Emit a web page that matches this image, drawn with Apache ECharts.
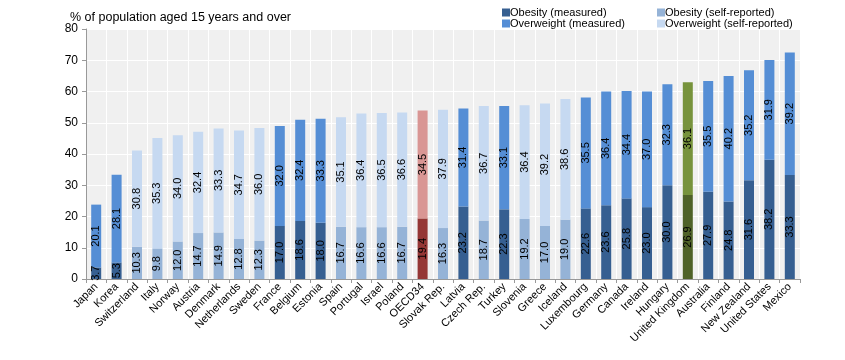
<!DOCTYPE html>
<html>
<head>
<meta charset="utf-8">
<script src="https://cdn.jsdelivr.net/npm/echarts@6/dist/echarts.min.js"></script>
<style>html,body{margin:0;padding:0;background:#fff}#c{width:845px;height:360px}</style>
</head>
<body>
<div id="c"></div>
<script>
const countries = ["Japan","Korea","Switzerland","Italy","Norway","Austria","Denmark","Netherlands","Sweden","France","Belgium","Estonia","Spain","Portugal","Israel","Poland","OECD34","Slovak Rep.","Latvia","Czech Rep.","Turkey","Slovenia","Greece","Iceland","Luxembourg","Germany","Canada","Ireland","Hungary","United Kingdom","Australia","Finland","New Zealand","United States","Mexico"];
const obesity = [3.7,5.3,10.3,9.8,12.0,14.7,14.9,12.8,12.3,17.0,18.6,18.0,16.7,16.6,16.6,16.7,19.4,16.3,23.2,18.7,22.3,19.2,17.0,19.0,22.6,23.6,25.8,23.0,30.0,26.9,27.9,24.8,31.6,38.2,33.3];
const overweight = [20.1,28.1,30.8,35.3,34.0,32.4,33.3,34.7,36.0,32.0,32.4,33.3,35.1,36.4,36.5,36.6,34.5,37.9,31.4,36.7,33.1,36.4,39.2,38.6,35.5,36.4,34.4,37.0,32.3,36.1,35.5,40.2,35.2,31.9,39.2];
// m = measured, s = self-reported, oecd / uk = highlighted
const method = ["m","m","s","s","s","s","s","s","s","m","m","m","s","s","s","s","oecd","s","m","s","m","s","s","s","m","m","m","m","m","uk","m","m","m","m","m"];
const yTicks = [0,10,20,30,40,50,60,70,80];

const C = {
  obM: '#365F91', owM: '#558ED5',
  obS: '#95B3D7', owS: '#C6D9F1',
  obOECD: '#953735', owOECD: '#D99694',
  obUK: '#4F6228', owUK: '#77933C'
};

function pick(vals, want, kind) {
  return vals.map((v, i) => {
    const m = method[i];
    if (want === 'm' && (m === 'm' || m === 'oecd' || m === 'uk')) {
      if (m === 'oecd') return {value: v, itemStyle: {color: kind === 'ob' ? C.obOECD : C.owOECD}};
      if (m === 'uk') return {value: v, itemStyle: {color: kind === 'ob' ? C.obUK : C.owUK}};
      return v;
    }
    if (want === 's' && m === 's') return v;
    return '-';
  });
}

const label = {
  show: true, position: 'inside', rotate: 90, color: '#000',
  fontSize: 11, fontFamily: 'Liberation Sans, Arial, sans-serif',
  formatter: p => (typeof p.value === 'number' ? p.value.toFixed(1) : '')
};

function mk(name, data, color) {
  return {
    name, type: 'bar', stack: 'tot', data, barWidth: 10,
    itemStyle: {color}, label, emphasis: {disabled: true}
  };
}

const chart = echarts.init(document.getElementById('c'), null, {renderer: 'canvas'});
chart.setOption({
  animation: false,
  backgroundColor: '#fff',
  textStyle: {fontFamily: 'Liberation Sans, Arial, sans-serif'},
  title: {
    text: '% of population aged 15 years and over',
    left: 65, top: 6,
    textStyle: {fontSize: 12.5, fontWeight: 'normal', color: '#000', fontFamily: 'Liberation Sans, Arial, sans-serif'}
  },
  legend: [
    {
      data: ['Obesity (measured)', 'Overweight (measured)'],
      orient: 'vertical', left: 497, top: 2, itemGap: 0,
      itemWidth: 8, itemHeight: 8, icon: 'rect',
      textStyle: {fontSize: 11, color: '#000', padding: [0, 0, 0, -5]}
    },
    {
      data: ['Obesity (self-reported)', 'Overweight (self-reported)'],
      orient: 'vertical', left: 652, top: 2, itemGap: 0,
      itemWidth: 8, itemHeight: 8, icon: 'rect',
      textStyle: {fontSize: 11, color: '#000', padding: [0, 0, 0, -5]}
    }
  ],
  grid: {left: 86, right: 45, top: 29, bottom: 81, show: true, backgroundColor: '#f0f0f0', borderWidth: 0},
  xAxis: {
    type: 'category', data: countries,
    axisLine: {lineStyle: {color: '#999'}},
    axisTick: {show: true, alignWithLabel: false, lineStyle: {color: '#999'}, length: 4},
    splitLine: {show: true, lineStyle: {color: '#fff', width: 1}},
    axisLabel: {rotate: 45, fontSize: 11, color: '#000', margin: 6, interval: 0}
  },
  yAxis: {
    type: 'value', min: yTicks[0], max: yTicks[yTicks.length - 1], interval: 10,
    axisLine: {show: true, lineStyle: {color: '#999'}},
    axisTick: {show: true, length: 4, lineStyle: {color: '#999'}},
    splitLine: {show: true, lineStyle: {color: '#fff', width: 1}},
    axisLabel: {fontSize: 12, color: '#000', margin: 8}
  },
  series: [
    mk('Obesity (measured)', pick(obesity, 'm', 'ob'), C.obM),
    mk('Obesity (self-reported)', pick(obesity, 's', 'ob'), C.obS),
    mk('Overweight (measured)', pick(overweight, 'm', 'ow'), C.owM),
    mk('Overweight (self-reported)', pick(overweight, 's', 'ow'), C.owS)
  ]
});
</script>
</body>
</html>
